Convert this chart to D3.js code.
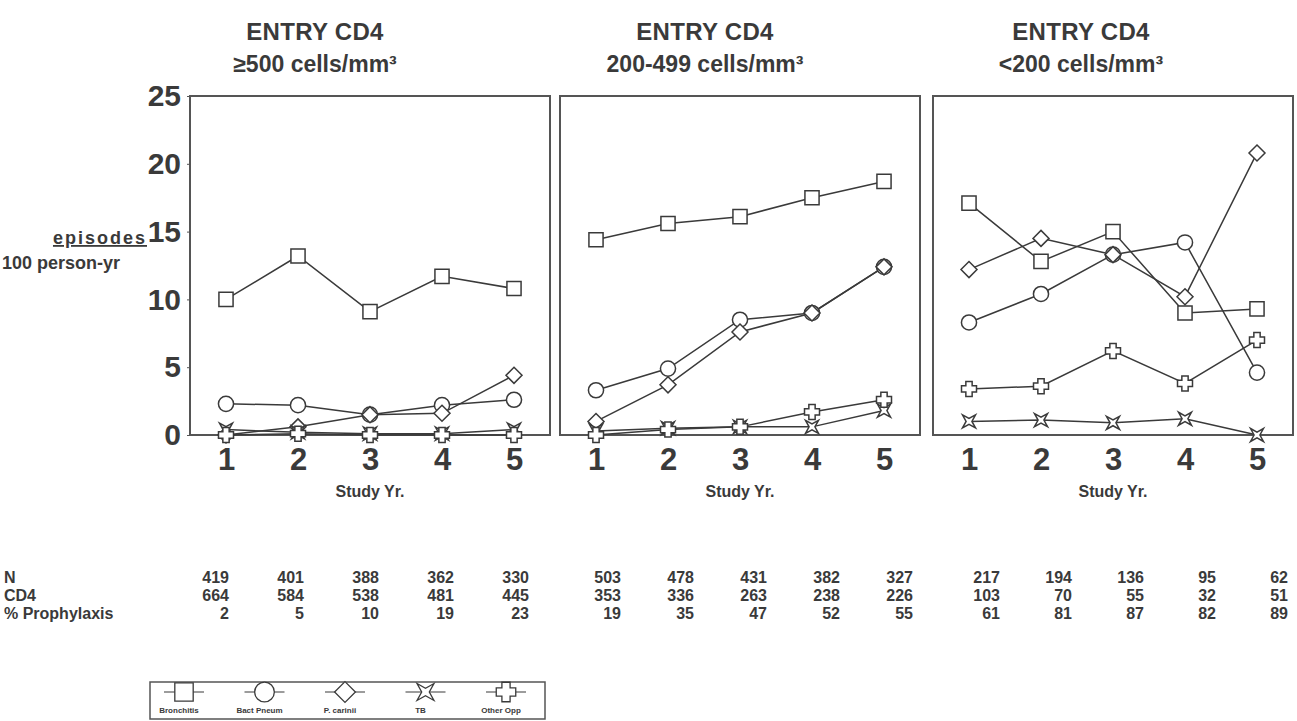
<!DOCTYPE html>
<html>
<head>
<meta charset="utf-8">
<script src="https://cdn.jsdelivr.net/npm/d3@7"></script>
<style>
  html, body { margin: 0; padding: 0; background: #fff; }
  svg { display: block; font-family: "Liberation Sans", Arial, Helvetica, sans-serif; }
</style>
</head>
<body>
<svg id="chart" width="1297" height="721"></svg>
<script>
// ---------------- DATA ----------------
const years = [1, 2, 3, 4, 5];
const panelTitles = ["ENTRY CD4", "ENTRY CD4", "ENTRY CD4"];
const panelSubtitles = ["≥500 cells/mm³", "200-499 cells/mm³", "<200 cells/mm³"];
const yTicks = [0, 5, 10, 15, 20, 25];
const seriesNames = ["Bronchitis", "Bact Pneum", "P. carinii", "TB", "Other Opp"];

// values per panel (≥500, 200-499, <200), episodes / 100 person-yr
const bronchitis = [[10.0, 13.2, 9.1, 11.7, 10.8], [14.4, 15.6, 16.1, 17.5, 18.7], [17.1, 12.8, 15.0, 9.0, 9.3]];
const bactPneum  = [[2.3, 2.2, 1.5, 2.2, 2.6], [3.3, 4.9, 8.5, 9.0, 12.4], [8.3, 10.4, 13.3, 14.2, 4.6]];
const pCarinii   = [[0.0, 0.6, 1.5, 1.6, 4.4], [1.0, 3.7, 7.6, 9.0, 12.4], [12.2, 14.5, 13.3, 10.2, 20.8]];
const tb         = [[0.4, 0.2, 0.1, 0.1, 0.4], [0.3, 0.5, 0.6, 0.6, 1.8], [1.0, 1.1, 0.9, 1.2, 0.0]];
const otherOpp   = [[0.0, 0.1, 0.0, 0.0, 0.0], [0.0, 0.4, 0.6, 1.7, 2.6], [3.4, 3.6, 6.2, 3.8, 7.0]];

// table rows
const tableLabels = ["N", "CD4", "% Prophylaxis"];
const nValues    = [[419, 401, 388, 362, 330], [503, 478, 431, 382, 327], [217, 194, 136, 95, 62]];
const cd4Values  = [[664, 584, 538, 481, 445], [353, 336, 263, 238, 226], [103, 70, 55, 32, 51]];
const prophValues = [[2, 5, 10, 19, 23], [19, 35, 47, 52, 55], [61, 81, 87, 82, 89]];

// ---------------- LAYOUT ----------------
const svg = d3.select("#chart");
const ink = "#3a3a3a";
const panelLefts = [190, 560, 933];
const titleShift = [-55, -35, -32];
const panelW = 360, plotTop = 96, plotBottom = 435;
const y = d3.scaleLinear().domain([0, 25]).range([plotBottom, plotTop]);

const allSeries = [bronchitis, bactPneum, pCarinii, tb, otherOpp];

// marker shapes
function starPath(r) {
  const c = r, m = r * 0.45;
  return `M${-c},${-c} L0,${-m} L${c},${-c} L${m},0 L${c},${c} L0,${m} L${-c},${c} L${-m},0 Z`;
}
function crossPath(r) {
  const a = r * 0.42;
  return `M${-a},${-r} H${a} V${-a} H${r} V${a} H${a} V${r} H${-a} V${a} H${-r} V${-a} H${-a} Z`;
}
const markers = [
  d3.symbol().type(d3.symbolSquare).size(200)(),
  d3.symbol().type(d3.symbolCircle).size(180)(),
  "M0,-8 L8,0 L0,8 L-8,0 Z",
  starPath(6.5),
  crossPath(7.5)
];

panelLefts.forEach((left, p) => {
  const x = d3.scaleLinear().domain([0.5, 5.5]).range([left, left + panelW]);
  const g = svg.append("g");

  // titles
  const cx = left + panelW / 2 + titleShift[p];
  g.append("text").attr("x", cx).attr("y", 40).attr("text-anchor", "middle")
    .attr("font-size", 24).attr("font-weight", "bold").attr("fill", ink)
    .attr("letter-spacing", 0.3).text(panelTitles[p]);
  g.append("text").attr("x", cx).attr("y", 72).attr("text-anchor", "middle")
    .attr("font-size", 23).attr("font-weight", "bold").attr("fill", ink)
    .text(panelSubtitles[p]);

  // frame
  g.append("rect").attr("x", left).attr("y", plotTop).attr("width", panelW).attr("height", plotBottom - plotTop)
    .attr("fill", "none").attr("stroke", "#555").attr("stroke-width", 2);

  // x axis
  const xa = g.append("g").attr("transform", `translate(0,${plotBottom})`)
    .call(d3.axisBottom(x).tickValues(years).tickSize(0).tickPadding(13).tickFormat(d3.format("d")));
  xa.select(".domain").remove();
  xa.selectAll("text").attr("font-size", 31).attr("font-weight", "bold").attr("fill", ink)
    .attr("font-family", "Liberation Sans, Arial, sans-serif");
  g.append("text").attr("x", x(3)).attr("y", 497).attr("text-anchor", "middle")
    .attr("font-size", 16).attr("font-weight", "bold").attr("fill", ink).text("Study Yr.");

  if (p === 0) {
    const ya = g.append("g").attr("transform", `translate(${left},0)`)
      .call(d3.axisLeft(y).tickValues(yTicks).tickSize(3).tickPadding(6));
    ya.select(".domain").remove();
    ya.selectAll("line").attr("stroke", "#555");
    ya.selectAll("text").attr("font-size", 30).attr("font-weight", "bold").attr("fill", ink)
      .attr("font-family", "Liberation Sans, Arial, sans-serif");
  }

  // series
  const line = d3.line().x((d, i) => x(years[i])).y(d => y(d));
  allSeries.forEach((s) => {
    g.append("path").attr("d", line(s[p])).attr("fill", "none")
      .attr("stroke", ink).attr("stroke-width", 1.5);
  });
  allSeries.forEach((s, k) => {
    g.selectAll(null).data(s[p]).enter().append("path")
      .attr("d", markers[k])
      .attr("transform", (d, i) => `translate(${x(years[i])},${y(d)})`)
      .attr("fill", "#fff").attr("stroke", ink).attr("stroke-width", 1.5);
  });
});

// y axis title
svg.append("text").attr("x", 147).attr("y", 244).attr("text-anchor", "end")
  .attr("font-size", 18).attr("font-weight", "bold").attr("fill", ink)
  .attr("letter-spacing", 2).attr("text-decoration", "underline").text("episodes");
svg.append("text").attr("x", 2).attr("y", 269)
  .attr("font-size", 18).attr("font-weight", "bold").attr("fill", ink).text("100 person-yr");

// ---------------- TABLE ----------------
const colStarts = [229, 621, 1000];
const colSteps = [75, 73, 72];
const rowsY = [583, 601, 619];
const tableRows = [nValues, cd4Values, prophValues];
tableLabels.forEach((lab, r) => {
  svg.append("text").attr("x", 4).attr("y", rowsY[r]).attr("font-size", 16)
    .attr("font-weight", "bold").attr("fill", ink).text(lab);
});
tableRows.forEach((rowData, r) => {
  rowData.forEach((vals, p) => {
    const cx = d3.scaleLinear().domain([1, 5]).range([colStarts[p], colStarts[p] + 4 * colSteps[p]]);
    svg.selectAll(null).data(vals).enter().append("text")
      .attr("x", (d, i) => cx(years[i])).attr("y", rowsY[r])
      .attr("text-anchor", "end").attr("font-size", 16).attr("font-weight", "bold")
      .attr("fill", ink).text(d => d);
  });
});

// ---------------- LEGEND ----------------
const lg = svg.append("g");
const legX = d3.scalePoint().domain(seriesNames).range([184, 506]);
lg.append("rect").attr("x", 150).attr("y", 682).attr("width", 395).attr("height", 37)
  .attr("fill", "#fff").attr("stroke", "#555").attr("stroke-width", 1.5);
seriesNames.forEach((name, k) => {
  const cx = legX(name);
  lg.append("line").attr("x1", cx - 20).attr("x2", cx + 20).attr("y1", 692).attr("y2", 692)
    .attr("stroke", ink).attr("stroke-width", 1.2);
  lg.append("path").attr("d", markers[k]).attr("transform", `translate(${cx},692) scale(1.3)`)
    .attr("fill", "#fff").attr("stroke", ink).attr("stroke-width", 1);
  lg.append("text").attr("x", cx - 5).attr("y", 713).attr("text-anchor", "middle")
    .attr("font-size", 8).attr("font-weight", "bold").attr("fill", ink).text(name);
});
</script>
</body>
</html>
